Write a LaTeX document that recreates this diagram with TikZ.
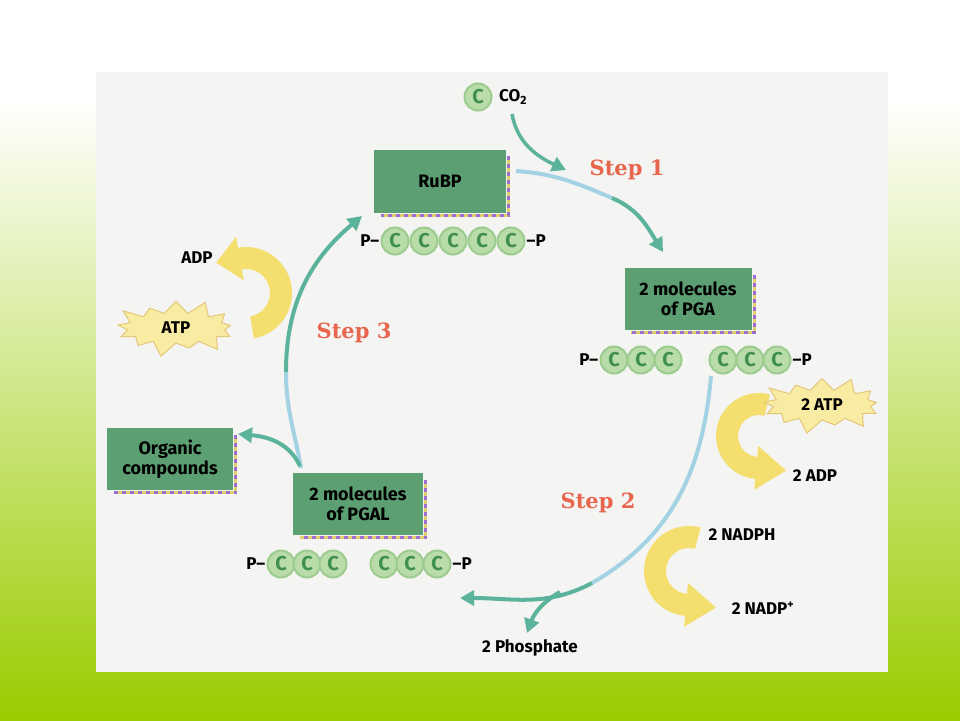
\documentclass[tikz,border=0pt]{standalone}
\usepackage{fontspec}
\setsansfont{Fira Sans}
\newfontfamily\stepfont{DejaVu Serif}
\usetikzlibrary{arrows.meta,shapes.symbols,calc}
\definecolor{bggreen}{HTML}{99CC00}
\definecolor{midgreen}{HTML}{C4DFA0}
\definecolor{panel}{HTML}{F4F4F2}
\definecolor{boxgreen}{HTML}{5C9F72}
\definecolor{lblue}{HTML}{A3D2E4}
\definecolor{arrteal}{HTML}{5CB39B}
\definecolor{stepred}{HTML}{E8654E}
\definecolor{yarrow}{HTML}{F4DE6E}
\definecolor{starfill}{HTML}{F8EBA2}
\definecolor{stardraw}{HTML}{E5C77A}
\definecolor{carbfill}{HTML}{B9DCA9}
\definecolor{carbring}{HTML}{9CCB8E}
\definecolor{carbtext}{HTML}{3F8F4E}
\definecolor{shpurple}{HTML}{9A6FD0}
\definecolor{shyellow}{HTML}{E2CF6A}
\newcommand{\boxshade}[1]{%
  \draw[shyellow, line width=3pt] ($(#1.north east)+(2.5,7)$) -- ($(#1.south east)+(2.5,2.5)$) -- ($(#1.south west)+(7,2.5)$);
  \draw[shpurple, line width=3pt, dash pattern=on 4pt off 4pt] ($(#1.north east)+(2.5,7)$) -- ($(#1.south east)+(2.5,2.5)$) -- ($(#1.south west)+(7,2.5)$);}
% curved block arrow: #1 centre, #2 start angle, #3 end angle, #4 mid radius, #5 half width, #6 tip length
\newcommand{\cyclearrow}[6]{%
  \fill[yarrow] ($(#1)+(#2:#4+#5)$) arc[start angle=#2, end angle=#3, radius=#4+#5]
    -- ($(#1)+(#3:#4+#5+11)$) -- ($(#1)+(#3:#4)+(#3-90:#6)$) -- ($(#1)+(#3:#4-#5-11)$)
    -- ($(#1)+(#3:#4-#5)$) arc[start angle=#3, end angle=#2, radius=#4-#5] -- cycle;}
\begin{document}
\begin{tikzpicture}[x=1pt,y=-1pt,
  every node/.style={font=\sffamily\bfseries\fontsize{17}{19}\selectfont, inner sep=0pt},
  molbox/.style={fill=boxgreen, minimum width=130pt, minimum height=62pt, align=center, font=\sffamily\bfseries\fontsize{18}{20}\selectfont},
  carb/.style={circle, minimum size=27pt, fill=carbfill, draw=carbring, line width=2pt, text=carbtext, font=\sffamily\bfseries\fontsize{20}{20}\selectfont},
  steplbl/.style={text=stepred, font=\stepfont\bfseries\fontsize{21}{23}\selectfont},
  burst/.style={starburst, starburst points=13, starburst point height=16pt, fill=starfill, draw=stardraw, line width=1pt, minimum width=130pt, minimum height=62pt},
  lb/.style={draw=lblue, line width=4pt},
  tl/.style={draw=arrteal, line width=4pt},
  tip/.style={-{Triangle[length=14pt,width=15pt]}},
]
\useasboundingbox (0,0) rectangle (960,720);
% background
\fill[white] (0,0) rectangle (960,720);
\shade[top color=white, middle color=midgreen, bottom color=bggreen] (0,100) rectangle (960,720);
\fill[panel] (96,72) rectangle (888,672);

% boxes
\node[molbox, minimum width=132pt, minimum height=63pt] (rubp) at (440,181) {RuBP};
\node[molbox, minimum width=127pt] (pga) at (688,299) {2 molecules\\of PGA};
\node[molbox] (pgal) at (358,504) {2 molecules\\of PGAL};
\node[molbox, minimum width=126pt] (org) at (170,459) {Organic\\compounds};
\boxshade{rubp}
\boxshade{pga}
\boxshade{pgal}
\boxshade{org}

% carbon chains
\foreach \x [count=\i] in {395,424,453,482,511} \node[carb] (ru\i) at (\x,241) {C};
\node[anchor=east] (ruPa) at ([xshift=-1pt]ru1.west) {P–};
\node[anchor=west] (ruPb) at ([xshift=1pt]ru5.east) {–P};
\foreach \x [count=\i] in {614,641,668,723,750,777} \node[carb] (pg\i) at (\x,360) {C};
\node[anchor=east] (pgPa) at ([xshift=-1pt]pg1.west) {P–};
\node[anchor=west] (pgPb) at ([xshift=1pt]pg6.east) {–P};
\foreach \x [count=\i] in {281,307,333,384,410,437} \node[carb] (pl\i) at (\x,564) {C};
\node[anchor=east] (plPa) at ([xshift=-1pt]pl1.west) {P–};
\node[anchor=west] (plPb) at ([xshift=1pt]pl6.east) {–P};

% CO2
\node[carb] (co2c) at (478,97) {C};
\node[anchor=west] (co2) at (499,97) {CO\textsubscript{2}};
\coordinate (c1) at (512,114);
\coordinate (c2) at (566,170);
\draw[tl, line width=3.5pt, tip] (c1) to[out=-80, in=155] (c2);

% Step 1
\coordinate (s1a) at (516,171);
\coordinate (s1m) at (612,198);
\coordinate (s1b) at (663,252);
\draw[lb] (s1a) to[out=-4,in=157] (s1m);
\draw[tl,tip] (s1m) to[out=-23,in=122] (s1b);

% Step 2
\coordinate (s2a) at (711,376);
\coordinate (s2m) at (592,583);
\coordinate (s2b) at (460,598);
\draw[lb] (s2a) to[out=-95,in=30] (s2m);
\draw[tl,tip] (s2m) to[out=-152,in=0] (s2b);
\coordinate (phb) at (560,592);
\coordinate (pht) at (527,633);
\draw[tl,tip] (phb) to[out=-150,in=70] (pht);

% Step 3
\coordinate (s3a) at (301,468);
\coordinate (s3m) at (286,372);
\coordinate (s3b) at (362,216);
\draw[lb] (s3a) to[out=100,in=-90] (s3m);
\draw[tl,tip] (s3m) to[out=90,in=-140] (s3b);
\coordinate (orb) at (300,466);
\coordinate (ora) at (238,434);
\draw[tl,tip] (orb) to[out=115,in=-5] (ora);

% yellow arrows
\cyclearrow{246,293}{80}{-100}{35}{11}{24}
\cyclearrow{759,436}{-75}{-265}{32}{11}{30}
\cyclearrow{689,571}{-75}{-265}{34}{11}{30}

% labels
\node[steplbl] (st1) at (627,170) {Step 1};
\node[steplbl] (st2) at (598,503) {Step 2};
\node[steplbl] (st3) at (354,333) {Step 3};
\node (adpL) at (197,258) {ADP};
\node[burst] (atpL) at (176,328) {ATP};
\node[burst] (atpR) at (822,405) {2 ATP};
\node (adpR) at (815,476) {2 ADP};
\node (nadph) at (742,535) {2 NADPH};
\node (nadp) at (763,608) {2 NADP\textsuperscript{+}};
\node (ph) at (530,648) {2 Phosphate};
\end{tikzpicture}
\end{document}
